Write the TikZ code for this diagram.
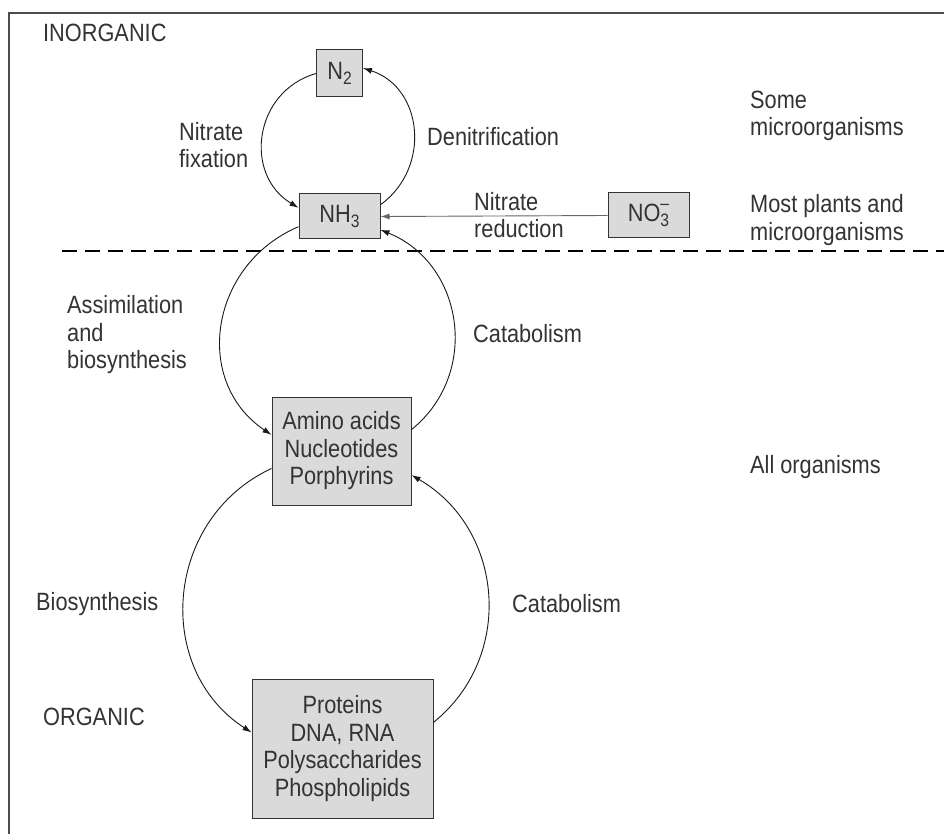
\documentclass[tikz,border=0pt]{standalone}
\usepackage{fontspec}
\setmainfont{Liberation Sans}[FakeStretch=0.87]
\usepackage{tikz}
\usetikzlibrary{arrows.meta}

\definecolor{txtgray}{HTML}{333333}
\definecolor{boxgray}{HTML}{DADADA}
\newcommand\subidx[1]{\raisebox{-0.35ex}{\fontsize{18}{18}\selectfont #1}}
\newcommand\supidx[1]{\raisebox{0.9ex}{\fontsize{18}{18}\selectfont #1}}
\tikzset{
  box/.style={draw=black!80, fill=boxgray, line width=1pt, inner sep=0pt, align=center, text=txtgray},
  lbl/.style={anchor=west, inner sep=0pt, align=left, text=txtgray},
  flow/.style={-{Latex[length=9pt,width=6pt]}, line width=0.9pt, black!90}
}

\begin{document}
\begin{tikzpicture}[x=1pt, y=-1pt, font=\fontsize{25}{27.5}\selectfont]
\useasboundingbox (0,0) rectangle (944,834);
\draw[line width=1.2pt, black!70] (944,13) -- (9,13) -- (9,834);
\draw[dash pattern=on 15pt off 8pt, line width=1.1pt] (62,251) -- (944,251);

\node[box, minimum width=46, minimum height=47] (n2) at (339.5,73.5) {N\subidx{2}};
\node[box, minimum width=81, minimum height=45] (nh3) at (339.5,216.5) {NH\subidx{3}};
\node[box, minimum width=81, minimum height=45] (no3) at (648.5,215.5) {NO\rlap{\supidx{--}}\subidx{3}};
\node[box, minimum width=139, minimum height=108] (amino) at (341.5,451) {Amino acids\\Nucleotides\\Porphyrins};
\node[box, minimum width=181, minimum height=139] (protein) at (342.5,748.5) {Proteins\\DNA, RNA\\Polysaccharides\\Phospholipids};

\node[lbl] (inorg) at (43,33) {INORGANIC};
\node[lbl] (fixlbl) at (179,145) {Nitrate\\fixation};
\node[lbl] (denitlbl) at (427,137) {Denitrification};
\node[lbl] (somelbl) at (750,116) {Some\\microorganisms};
\node[lbl] (redlbl) at (474,215) {Nitrate\\reduction};
\node[lbl] (mostlbl) at (750,220) {Most plants and\\microorganisms};
\node[lbl] (assimlbl) at (67,335) {Assimilation\\and\\biosynthesis};
\node[lbl] (catalbl) at (473,334) {Catabolism};
\node[lbl] (alllbl) at (750,467) {All organisms};
\node[lbl] (biolbl) at (36,604) {Biosynthesis};
\node[lbl] (catalbltwo) at (512,604) {Catabolism};
\node[lbl] (orglbl) at (43,717) {ORGANIC};

% inorganic cycle
\draw[flow] (n2.west) to[out=196, in=149, looseness=1.22] (nh3.168);
\draw[flow] (nh3.16) to[out=36, in=342, looseness=1.17] (n2.13);
\draw[flow, black!60] (no3.west) -- (nh3.east);
% organic cycles
\draw[flow] (nh3.194) to[out=203, in=146, looseness=1.17] (amino.167);
\draw[flow] (amino.17) to[out=39, in=338, looseness=1.13] (nh3.-18);
\draw[flow] (amino.194) to[out=205, in=147, looseness=1.14] (protein.170);
\draw[flow] (protein.16) to[out=39, in=330, looseness=1.09] (amino.-19);
\end{tikzpicture}
\end{document}
